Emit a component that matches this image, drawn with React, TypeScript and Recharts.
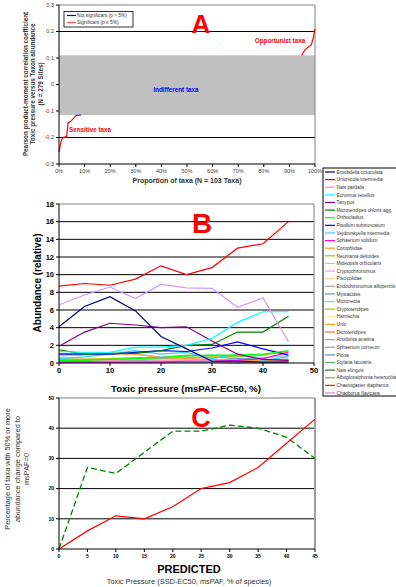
import { LineChart, Line, XAxis, YAxis, ReferenceLine, ReferenceArea } from "recharts";

const font = "'Liberation Sans', Arial, sans-serif";

// ---- Panel A: correlation per taxon, sorted ----
const aPropSensitive = [0, 0.8, 1.5, 3, 3.5, 4.5, 5.5, 6.6];
const aCorrSensitive = [-0.255, -0.215, -0.2, -0.197, -0.145, -0.14, -0.13, -0.117];
const aPropNotSig = [6.6, 8.6];
const aCorrNotSig = [-0.117, -0.115];
const aPropOpportunist = [94.8, 96, 97.2, 98.6, 99.4, 100];
const aCorrOpportunist = [0.11, 0.13, 0.14, 0.15, 0.18, 0.21];
const aXTicks = [0, 10, 20, 30, 40, 50, 60, 70, 80, 90, 100];
const aYTicks = [-0.3, -0.2, -0.1, 0, 0.1, 0.2, 0.3];

// ---- Panel B: abundance per taxon vs toxic pressure ----
const pressure = [0, 5, 10, 15, 20, 25, 30, 35, 40, 45];
const erpobdella = [4.1, 6.4, 7.5, 5.9, 3.0, 1.6, 0.2, 0.2, 0.1, 0.1];
const unionicola = [8.7, 9.0, 8.8, 9.5, 11.0, 10.0, 10.8, 13.0, 13.5, 16.0];
const naisPardalis = [6.6, 7.7, 8.6, 7.3, 8.9, 8.5, 8.45, 6.3, 7.4, 2.4];
const ecnomus = [1.3, 1.2, 1.2, 1.8, 1.8, 2.0, 2.8, 4.6, 5.8, 5.8];
const tanypus = [1.9, 3.5, 4.5, 4.3, 4.0, 4.1, 2.5, 1.0, 0.4, 0.3];
const microtendipes = [1.5, 1.0, 1.1, 1.1, 1.4, 2.0, 2.1, 3.5, 3.5, 5.3];
const orthocladius = [0.3, 0.3, 0.4, 0.5, 0.6, 0.8, 0.9, 0.9, 1.0, 1.4];
const pisidium = [1.0, 1.0, 1.0, 1.2, 1.4, 1.3, 1.7, 2.4, 1.6, 0.9];
const vejdovskyella = [0.5, 0.7, 1.0, 1.4, 1.0, 1.2, 0.5, 1.0, 0.3, 0.7];
const sphaeriumSolidum = [0.1, 0.1, 0.1, 0.1, 0.1, 0.2, 0.2, 0.3, 0.5, 1.2];
const corophiidae = [1.1, 1.0, 1.0, 1.0, 0.6, 0.5, 0.4, 0.3, 0.3, 0.2];
const neumania = [0.4, 0.4, 0.5, 0.6, 0.6, 0.9, 0.8, 0.7, 0.9, 1.3];
const mideopsis = [0.8, 0.9, 1.1, 1.0, 0.7, 0.8, 0.9, 0.8, 0.6, 0.8];
const cryptochironomus = [0.3, 0.3, 0.3, 0.4, 0.3, 0.3, 0.4, 0.3, 0.3, 0.3];
const piscicolidae = [0.6, 0.5, 0.5, 0.5, 0.4, 0.4, 0.3, 0.3, 0.2, 0.2];
const endochironomus = [0.2, 0.2, 0.3, 0.3, 0.4, 0.4, 0.4, 0.3, 0.3, 0.4];
const mystacides = [0.2, 0.3, 0.3, 0.3, 0.5, 0.4, 0.3, 0.5, 0.4, 0.3];
const micronecta = [0.1, 0.2, 0.2, 0.3, 0.3, 0.2, 0.2, 0.3, 0.3, 0.4];
const cryptotendipes = [0.5, 0.4, 0.4, 0.4, 0.5, 0.6, 0.7, 0.5, 0.4, 0.3];
const harnischia = [0.3, 0.3, 0.2, 0.2, 0.3, 0.3, 0.2, 0.2, 0.1, 0.1];
const unio = [0.4, 0.4, 0.4, 0.4, 0.3, 0.3, 0.2, 0.2, 0.2, 0.2];
const dicrotendipes = [0.2, 0.2, 0.3, 0.3, 0.3, 0.2, 0.2, 0.2, 0.1, 0.1];
const anodonta = [0.2, 0.2, 0.2, 0.2, 0.1, 0.1, 0.1, 0.1, 0.1, 0.1];
const sphaeriumCorneum = [0.3, 0.3, 0.3, 0.2, 0.2, 0.2, 0.2, 0.1, 0.1, 0.1];
const piona = [0.1, 0.1, 0.2, 0.2, 0.2, 0.1, 0.1, 0.1, 0.1, 0.1];
const stylaria = [0.2, 0.2, 0.2, 0.2, 0.2, 0.2, 0.1, 0.1, 0.1, 0.1];
const naisElinguis = [0.1, 0.1, 0.1, 0.1, 0.1, 0.1, 0.1, 0.1, 0.1, 0.1];
const alboglossiphonia = [0.1, 0.1, 0.1, 0.2, 0.1, 0.1, 0.1, 0.1, 0.1, 0.1];
const chaetogaster = [0.1, 0.1, 0.1, 0.1, 0.1, 0.1, 0.1, 0.0, 0.1, 0.1];
const chaoborus = [0.0, 0.1, 0.1, 0.1, 0.1, 0.1, 0.1, 0.1, 0.0, 0.1];

const taxa = [
  "Erpobdella octoculata", "Unionicola intermedia", "Nais pardalis", "Ecnomus tenellus",
  "Tanypus", "Microtendipes chloris agg.", "Orthocladius", "Pisidium subtruncatum",
  "Vejdovskyella intermedia", "Sphaerium solidum", "Corophiidae", "Neumania deltoides",
  "Mideopsis orbicularis", "Cryptochironomus", "Piscicolidae", "Endochironomus albipennis",
  "Mystacides", "Micronecta", "Cryptotendipes", "Harnischia", "Unio", "Dicrotendipes",
  "Anodonta anatina", "Sphaerium corneum", "Piona", "Stylaria lacustris", "Nais elinguis",
  "Alboglossiphonia heteroclita", "Chaetogaster diaphanus", "Chaoborus flavicans",
];
const taxaValues = [
  erpobdella, unionicola, naisPardalis, ecnomus, tanypus, microtendipes, orthocladius,
  pisidium, vejdovskyella, sphaeriumSolidum, corophiidae, neumania, mideopsis,
  cryptochironomus, piscicolidae, endochironomus, mystacides, micronecta, cryptotendipes,
  harnischia, unio, dicrotendipes, anodonta, sphaeriumCorneum, piona, stylaria,
  naisElinguis, alboglossiphonia, chaetogaster, chaoborus,
];
const taxaColors = [
  "#000080", "#FF0000", "#CC99FF", "#00FFFF", "#800080", "#008000", "#00FF00", "#0000FF",
  "#33CCFF", "#FF00FF", "#FFA030", "#99CC00", "#99CCFF", "#FF99CC", "#FFCC99", "#A0A0A0",
  "#6688FF", "#66DDDD", "#99CC00", "#FFE680", "#FF9900", "#FF6633", "#9999CC", "#969696",
  "#6688AA", "#55AA77", "#336633", "#999966", "#CC3300", "#DD88BB",
];
const bYTicks = [0, 2, 4, 6, 8, 10, 12, 14, 16, 18];
const bXTicks = [0, 10, 20, 30, 40, 50];

// ---- Panel C: % of taxa with >= 50% abundance change ----
const cObserved = [0, 27, 25, 32, 39, 39, 41, 40, 37, 30];
const cPredicted = [0, 6, 11, 10, 14, 20, 22, 27, 35, 43];
const cXTicks = [0, 5, 10, 15, 20, 25, 30, 35, 40, 45];
const cYTicks = [0, 10, 20, 30, 40, 50];

const bData = pressure.map((x, i) => {
  const row: Record<string, number> = { x };
  taxa.forEach((t, k) => (row[t] = taxaValues[k][i]));
  return row;
});
const cData = pressure.map((x, i) => ({ x, observed: cObserved[i], predicted: cPredicted[i] }));
const toPoints = (xs: number[], ys: number[]) => xs.map((x, i) => ({ x, y: ys[i] }));

const axisProps = {
  axisLine: { stroke: "#000" },
  tickLine: { stroke: "#000" },
  tickSize: 3,
};

function PanelA() {
  return (
    <LineChart width={396} height={195} margin={{ top: 5, right: 81, bottom: 0, left: 0 }}>
      <XAxis
        type="number"
        dataKey="x"
        domain={[0, 100]}
        ticks={aXTicks}
        tickFormatter={(v) => `${v}%`}
        height={31}
        tick={{ fontSize: 5.5, fill: "#444", fontFamily: font }}
        {...axisProps}
      />
      <YAxis
        type="number"
        domain={[-0.3, 0.3]}
        ticks={aYTicks}
        tickFormatter={(v) => (v === 0 ? "0" : v.toFixed(1))}
        width={59}
        tick={{ fontSize: 5.5, fill: "#444", fontFamily: font }}
        {...axisProps}
      />
      <ReferenceArea y1={-0.115} y2={0.11} fill="#C0C0C0" fillOpacity={1} stroke="none" />
      <ReferenceLine y={0.2} stroke="#000" />
      <ReferenceLine y={-0.2} stroke="#000" />
      <ReferenceLine y={0.3} stroke="#808080" />
      <ReferenceLine x={100} stroke="#808080" />
      <Line data={toPoints(aPropSensitive, aCorrSensitive)} dataKey="y" stroke="#FF0000" strokeWidth={1.2} dot={false} isAnimationActive={false} />
      <Line data={toPoints(aPropNotSig, aCorrNotSig)} dataKey="y" stroke="#0000FF" strokeWidth={1.2} dot={false} isAnimationActive={false} />
      <Line data={toPoints(aPropOpportunist, aCorrOpportunist)} dataKey="y" stroke="#FF0000" strokeWidth={1.2} dot={false} isAnimationActive={false} />
    </LineChart>
  );
}

function PanelB() {
  return (
    <LineChart width={396} height={187} data={bData} margin={{ top: 8, right: 82, bottom: 0, left: 0 }}>
      <XAxis
        type="number"
        dataKey="x"
        domain={[0, 50]}
        ticks={bXTicks}
        height={20}
        tick={{ fontSize: 7.5, fontWeight: "bold", fill: "#000", fontFamily: font }}
        {...axisProps}
      />
      <YAxis
        type="number"
        domain={[0, 18]}
        ticks={bYTicks}
        width={59}
        tick={{ fontSize: 7.5, fontWeight: "bold", fill: "#000", fontFamily: font }}
        {...axisProps}
      />
      {bYTicks.slice(1, -1).map((v) => (
        <ReferenceLine key={v} y={v} stroke="#000" />
      ))}
      <ReferenceLine y={18} stroke="#808080" />
      <ReferenceLine x={50} stroke="#808080" />
      {taxa
        .map((t, k) => ({ t, k }))
        .reverse()
        .map(({ t, k }) => (
          <Line
            key={t}
            dataKey={t}
            stroke={taxaColors[k]}
            strokeWidth={1.2}
            dot={false}
            isAnimationActive={false}
          />
        ))}
    </LineChart>
  );
}

function PanelC() {
  return (
    <LineChart width={396} height={171} data={cData} margin={{ top: 6, right: 81, bottom: 0, left: 0 }}>
      <XAxis
        type="number"
        dataKey="x"
        domain={[0, 45]}
        ticks={cXTicks}
        height={14}
        tick={{ fontSize: 5, fontWeight: "bold", fill: "#000", fontFamily: font }}
        {...axisProps}
      />
      <YAxis
        type="number"
        domain={[0, 50]}
        ticks={cYTicks}
        width={59}
        tick={{ fontSize: 5, fontWeight: "bold", fill: "#000", fontFamily: font }}
        {...axisProps}
      />
      {cYTicks.slice(1, -1).map((v) => (
        <ReferenceLine key={v} y={v} stroke="#000" />
      ))}
      <ReferenceLine y={50} stroke="#808080" />
      <ReferenceLine x={45} stroke="#A0A0A0" strokeWidth={2} />
      <Line dataKey="observed" stroke="#008000" strokeWidth={1.3} strokeDasharray="6 3" dot={false} isAnimationActive={false} />
      <Line dataKey="predicted" stroke="#FF0000" strokeWidth={1.2} dot={false} isAnimationActive={false} />
    </LineChart>
  );
}

function Overlay() {
  const t = { fontFamily: font };
  return (
    <svg width={396} height={587} style={{ position: "absolute", left: 0, top: 0, pointerEvents: "none" }}>
      {/* Panel A */}
      <rect x={64} y={11.5} width={69} height={15.5} fill="#fff" stroke="#000" strokeWidth={0.8} />
      <line x1={67} x2={76} y1={15.5} y2={15.5} stroke="#0000FF" strokeWidth={1.2} />
      <text x={77} y={17.3} fontSize={4.8} fill="#333" {...t}>Not significant (p &gt; 5%)</text>
      <line x1={67} x2={76} y1={22.5} y2={22.5} stroke="#FF5050" strokeWidth={1.2} />
      <text x={77} y={24.3} fontSize={4.8} fill="#333" {...t}>Significant (p ≤ 5%)</text>
      <text x={201} y={33} fontSize={26} fontWeight="bold" fill="#FF0000" textAnchor="middle" {...t}>A</text>
      <text x={280} y={43} fontSize={6.3} fontWeight="bold" fill="#FF0000" textAnchor="middle" {...t}>Opportunist taxa</text>
      <text x={176} y={92} fontSize={6.3} fontWeight="bold" fill="#0000FF" textAnchor="middle" {...t}>Indifferent taxa</text>
      <text x={90} y={132} fontSize={6.3} fontWeight="bold" fill="#FF0000" textAnchor="middle" {...t}>Sensitive taxa</text>
      <text x={187} y={183} fontSize={7} fontWeight="bold" fill="#333" textAnchor="middle" {...t}>Proportion of taxa (N = 103 Taxa)</text>
      <g transform="translate(0,84) rotate(-90)" fontSize={6.3} fontWeight="bold" fill="#333" textAnchor="middle" {...t}>
        <text x={0} y={28}>Pearson product-moment correlation coefficient</text>
        <text x={0} y={35}>Toxic pressure versus Taxon abundance</text>
        <text x={0} y={42.5}>(N = 279 Sites)</text>
      </g>

      {/* Panel B */}
      <text x={202} y={233} fontSize={28} fontWeight="bold" fill="#FF0000" textAnchor="middle" {...t}>B</text>
      <text x={0} y={0} transform="translate(41,283) rotate(-90)" fontSize={10} fontWeight="bold" fill="#000" textAnchor="middle" {...t}>
        Abundance (relative)
      </text>
      <text x={186} y={392} fontSize={9.6} fontWeight="bold" fill="#000" textAnchor="middle" {...t}>
        Toxic pressure (msPAF-EC50, %)
      </text>
      <rect x={323} y={168} width={80} height={228} fill="#fff" stroke="#000" strokeWidth={1} />
      {taxa.map((name, k) => {
        const y = 172 + k * 7.62;
        return (
          <g key={name}>
            <line x1={325} x2={335} y1={y} y2={y} stroke={taxaColors[k]} strokeWidth={1.2} />
            <text x={336.5} y={y + 1.7} fontSize={4.8} fill="#333" {...t}>{name}</text>
          </g>
        );
      })}

      {/* Panel C */}
      <text x={201} y={427} fontSize={27} fontWeight="bold" fill="#FF0000" textAnchor="middle" {...t}>C</text>
      <text x={189} y={573} fontSize={11} fontWeight="bold" fill="#000" textAnchor="middle" {...t}>PREDICTED</text>
      <text x={189} y={584} fontSize={7.4} fill="#333" textAnchor="middle" {...t}>
        Toxic Pressure (SSD-EC50, msPAF, % of species)
      </text>
      <g transform="translate(0,469) rotate(-90)" fontSize={7.4} fill="#333" textAnchor="middle" {...t}>
        <text x={0} y={10}>Percentage of taxa with 50% or more</text>
        <text x={0} y={19.5}>abundance change compared to</text>
        <text x={0} y={29}>msPAF=0</text>
      </g>
    </svg>
  );
}

export default function App() {
  return (
    <div style={{ position: "absolute", left: 0, top: 0, width: 396, height: 587, background: "#fff", fontFamily: font, overflow: "hidden" }}>
      <div style={{ position: "absolute", left: 0, top: 0 }}>
        <PanelA />
      </div>
      <div style={{ position: "absolute", left: 0, top: 196 }}>
        <PanelB />
      </div>
      <div style={{ position: "absolute", left: 0, top: 392 }}>
        <PanelC />
      </div>
      <Overlay />
    </div>
  );
}
